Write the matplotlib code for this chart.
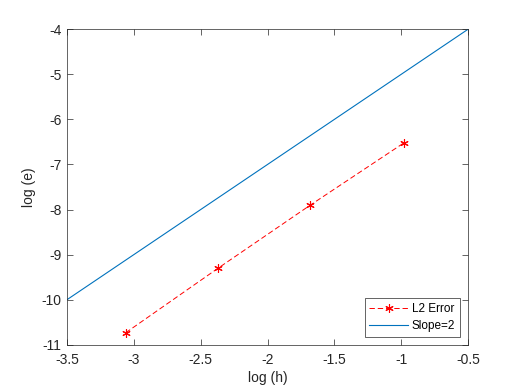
import numpy as np
import matplotlib.pyplot as plt

plt.rcParams['font.family'] = ['Liberation Sans', 'DejaVu Sans']

# data
log_h = [-3.06, -2.37, -1.68, -0.98]
log_e = [-10.73, -9.30, -7.90, -6.52]
slope_x = [-3.5, -0.5]
slope_y = [-10, -4]

fig = plt.figure(figsize=(5.18, 3.88), dpi=100)
ax = fig.add_axes([0.129, 0.111, 0.775, 0.814])

ax.plot(log_h, log_e, color='r', ls=(0, (5.5, 3)), marker=(6, 2, 0),
        lw=0.7, ms=6, mew=0.8, label='L2 Error')
ax.plot(slope_x, slope_y, color=(0, 0.447, 0.741), lw=0.8, label='Slope=2')

ax.set_xlim(-3.5, -0.5)
ax.set_ylim(-11, -4)
ax.set_xticks(np.arange(-3.5, -0.49, 0.5))
ax.set_xticklabels(['-3.5', '-3', '-2.5', '-2', '-1.5', '-1', '-0.5'])
ax.set_yticks(np.arange(-11, -3.9, 1))
ax.set_yticklabels([str(v) for v in range(-11, -3)])
ax.set_xlabel('log (h)', fontsize=10, color='0.15', labelpad=3)
ax.set_ylabel('log (e)', fontsize=10, color='0.15', labelpad=4)

ax.tick_params(direction='in', top=True, right=True, length=4, width=0.5,
               colors='0.15', labelsize=10)
ax.tick_params(axis='x', pad=6)
ax.tick_params(axis='y', pad=4)
for s in ax.spines.values():
    s.set_color('0.15')
    s.set_linewidth(0.5)

leg = ax.legend(loc='lower right', fontsize=8.5, fancybox=False, framealpha=1,
                edgecolor='0.15', borderpad=0.4, handlelength=3.3,
                handletextpad=0.3, labelspacing=0.45, borderaxespad=0.7)
leg.get_frame().set_linewidth(0.5)

fig.savefig('out.png', dpi=100)
